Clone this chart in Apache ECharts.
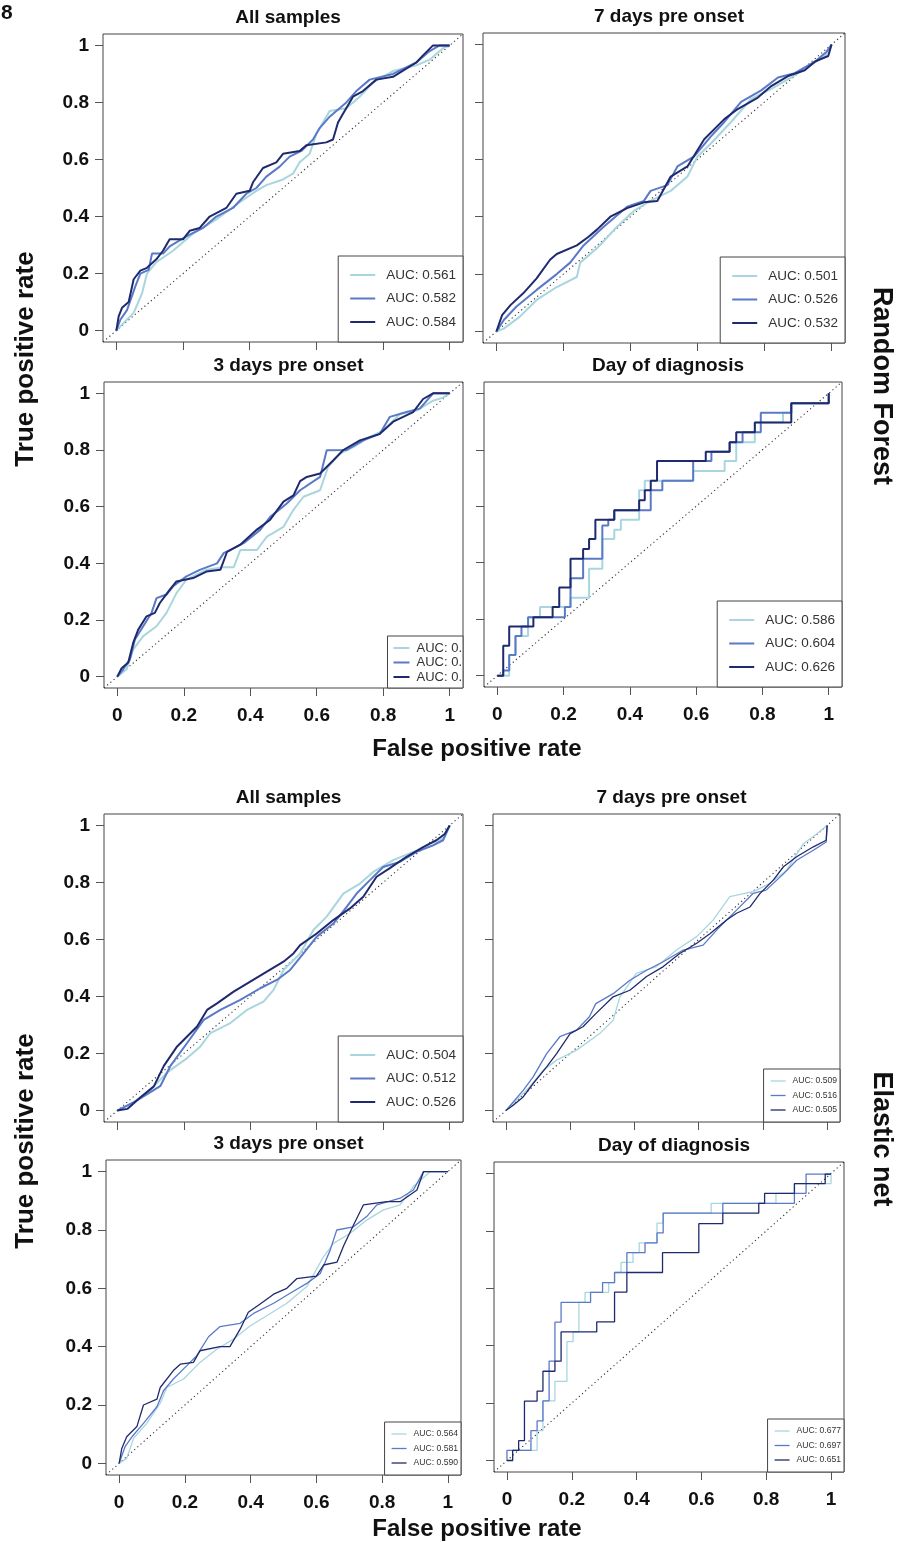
<!DOCTYPE html>
<html>
<head>
<meta charset="utf-8">
<title>ROC curves</title>
<script src="https://cdn.jsdelivr.net/npm/echarts@6/dist/echarts.min.js"></script>
<style>
  html, body { margin: 0; padding: 0; background: #fff; }
  #chart { width: 897px; height: 1542px; }
</style>
</head>
<body>
<div id="chart"></div>
<script>
// ---- data: [false positive rate, true positive rate] ----

// Random Forest, all samples
const rfAllLight = [[0,0],[0.022,0.027],[0.052,0.062],[0.077,0.13],[0.092,0.20],[0.12,0.24],[0.17,0.28],[0.23,0.34],[0.30,0.39],[0.37,0.45],[0.42,0.49],[0.45,0.51],[0.50,0.53],[0.53,0.55],[0.55,0.59],[0.58,0.62],[0.60,0.69],[0.64,0.77],[0.69,0.78],[0.73,0.82],[0.77,0.87],[0.83,0.91],[0.90,0.93],[0.94,0.95],[0.98,0.99],[1,1]]
const rfAllMid = [[0,0],[0.012,0.038],[0.032,0.072],[0.057,0.155],[0.072,0.20],[0.097,0.213],[0.107,0.27],[0.14,0.27],[0.16,0.295],[0.21,0.33],[0.26,0.36],[0.30,0.40],[0.35,0.43],[0.39,0.48],[0.42,0.50],[0.45,0.54],[0.49,0.575],[0.52,0.61],[0.555,0.63],[0.59,0.67],[0.61,0.71],[0.64,0.75],[0.69,0.80],[0.72,0.84],[0.76,0.88],[0.83,0.90],[0.90,0.94],[0.94,0.98],[0.97,1],[1,1]]
const rfAllDark = [[0,0],[0.007,0.05],[0.017,0.08],[0.037,0.10],[0.052,0.18],[0.072,0.21],[0.092,0.22],[0.12,0.25],[0.14,0.28],[0.16,0.32],[0.20,0.32],[0.22,0.35],[0.25,0.36],[0.28,0.40],[0.33,0.43],[0.36,0.48],[0.40,0.49],[0.41,0.52],[0.44,0.57],[0.48,0.59],[0.50,0.62],[0.55,0.63],[0.57,0.65],[0.63,0.66],[0.65,0.67],[0.665,0.73],[0.68,0.76],[0.71,0.82],[0.74,0.84],[0.78,0.88],[0.83,0.89],[0.90,0.94],[0.92,0.965],[0.95,1],[1,1]]
const rfAllAuc = ['AUC: 0.561', 'AUC: 0.582', 'AUC: 0.584']

// Random Forest, 7 days pre onset
const rf7Light = [[0,0],[0.022,0.01],[0.07,0.052],[0.12,0.11],[0.18,0.155],[0.24,0.19],[0.25,0.24],[0.30,0.29],[0.36,0.365],[0.41,0.42],[0.46,0.455],[0.52,0.49],[0.57,0.54],[0.60,0.61],[0.64,0.655],[0.70,0.73],[0.76,0.81],[0.82,0.845],[0.88,0.885],[0.94,0.93],[0.98,0.96],[1,1]]
const rf7Mid = [[0,0],[0.022,0.04],[0.06,0.087],[0.12,0.145],[0.18,0.20],[0.22,0.24],[0.26,0.30],[0.32,0.365],[0.39,0.435],[0.44,0.455],[0.46,0.49],[0.51,0.51],[0.54,0.575],[0.59,0.61],[0.64,0.68],[0.68,0.73],[0.73,0.80],[0.79,0.84],[0.84,0.885],[0.89,0.90],[0.95,0.94],[0.985,0.975],[1,1]]
const rf7Dark = [[0,0],[0.017,0.057],[0.042,0.092],[0.08,0.133],[0.12,0.185],[0.16,0.25],[0.18,0.27],[0.24,0.30],[0.275,0.33],[0.30,0.355],[0.34,0.40],[0.39,0.43],[0.44,0.45],[0.48,0.455],[0.52,0.54],[0.57,0.575],[0.62,0.67],[0.68,0.74],[0.72,0.775],[0.78,0.815],[0.82,0.855],[0.87,0.89],[0.92,0.91],[0.95,0.94],[0.99,0.96],[1,1]]
const rf7Auc = ['AUC: 0.501', 'AUC: 0.526', 'AUC: 0.532']

// Random Forest, 3 days pre onset
const rf3Light = [[0,0],[0.028,0.026],[0.048,0.096],[0.078,0.143],[0.118,0.178],[0.148,0.225],[0.178,0.295],[0.208,0.342],[0.268,0.377],[0.32,0.386],[0.35,0.386],[0.37,0.447],[0.42,0.447],[0.45,0.494],[0.50,0.529],[0.53,0.589],[0.56,0.635],[0.61,0.658],[0.634,0.74],[0.67,0.787],[0.71,0.81],[0.75,0.84],[0.80,0.869],[0.85,0.927],[0.90,0.939],[0.95,0.974],[0.98,0.985],[1,1]]
const rf3Mid = [[0,0],[0.018,0.026],[0.038,0.061],[0.053,0.131],[0.078,0.178],[0.103,0.225],[0.118,0.277],[0.148,0.29],[0.168,0.319],[0.208,0.354],[0.248,0.377],[0.30,0.40],[0.32,0.436],[0.38,0.471],[0.43,0.518],[0.46,0.564],[0.51,0.611],[0.55,0.658],[0.61,0.705],[0.63,0.799],[0.69,0.80],[0.74,0.834],[0.79,0.857],[0.82,0.917],[0.87,0.934],[0.91,0.946],[0.95,1],[1,1]]
const rf3Dark = [[0,0],[0.013,0.03],[0.033,0.05],[0.048,0.12],[0.063,0.166],[0.088,0.213],[0.113,0.225],[0.128,0.26],[0.158,0.307],[0.178,0.336],[0.228,0.348],[0.268,0.371],[0.31,0.377],[0.33,0.44],[0.37,0.466],[0.42,0.519],[0.46,0.554],[0.50,0.618],[0.53,0.64],[0.55,0.69],[0.57,0.705],[0.61,0.717],[0.65,0.764],[0.68,0.80],[0.73,0.834],[0.79,0.857],[0.83,0.90],[0.89,0.934],[0.92,0.98],[0.95,1],[1,1]]
const rf3Auc = ['AUC: 0.', 'AUC: 0.', 'AUC: 0.']

// Random Forest, day of diagnosis (step corners)
const rfDxLight = [[0,0],[0.036,0.073],[0.055,0.141],[0.093,0.207],[0.129,0.243],[0.221,0.276],[0.277,0.379],[0.317,0.484],[0.353,0.517],[0.373,0.552],[0.428,0.657],[0.445,0.69],[0.591,0.725],[0.686,0.76],[0.721,0.827],[0.777,0.897],[0.862,0.931],[0.887,0.965],[1,1]]
const rfDxMid = [[0,0],[0.018,0.018],[0.036,0.073],[0.055,0.141],[0.073,0.174],[0.093,0.207],[0.204,0.243],[0.221,0.345],[0.259,0.414],[0.317,0.532],[0.335,0.552],[0.353,0.586],[0.463,0.621],[0.463,0.657],[0.498,0.69],[0.591,0.76],[0.646,0.793],[0.701,0.827],[0.74,0.862],[0.795,0.931],[0.887,0.965],[1,1]]
const rfDxDark = [[0,0],[0.018,0.106],[0.036,0.174],[0.109,0.207],[0.167,0.243],[0.187,0.312],[0.221,0.414],[0.259,0.449],[0.277,0.484],[0.296,0.552],[0.353,0.586],[0.428,0.621],[0.445,0.657],[0.463,0.69],[0.482,0.76],[0.629,0.793],[0.701,0.827],[0.721,0.862],[0.777,0.897],[0.887,0.965],[1,1]]
const rfDxAuc = ['AUC: 0.586', 'AUC: 0.604', 'AUC: 0.626']

// Elastic net, all samples
const enAllLight = [[0,0],[0.02,0.012],[0.05,0.03],[0.10,0.073],[0.15,0.134],[0.21,0.184],[0.25,0.225],[0.28,0.272],[0.34,0.307],[0.39,0.353],[0.44,0.382],[0.47,0.423],[0.50,0.493],[0.55,0.551],[0.59,0.633],[0.63,0.68],[0.68,0.761],[0.73,0.796],[0.77,0.837],[0.83,0.878],[0.89,0.907],[0.95,0.93],[0.985,0.96],[1,1]]
const enAllMid = [[0,0],[0.05,0.03],[0.09,0.058],[0.13,0.087],[0.16,0.157],[0.21,0.237],[0.26,0.318],[0.31,0.353],[0.37,0.388],[0.43,0.429],[0.48,0.458],[0.52,0.493],[0.56,0.551],[0.60,0.61],[0.65,0.656],[0.69,0.714],[0.72,0.761],[0.76,0.808],[0.80,0.854],[0.85,0.872],[0.90,0.907],[0.95,0.93],[0.98,0.948],[1,1]]
const enAllDark = [[0,0],[0.03,0.006],[0.07,0.047],[0.11,0.085],[0.14,0.157],[0.18,0.225],[0.21,0.26],[0.24,0.295],[0.27,0.353],[0.30,0.376],[0.35,0.417],[0.40,0.452],[0.45,0.487],[0.50,0.522],[0.53,0.551],[0.55,0.58],[0.60,0.621],[0.65,0.668],[0.70,0.709],[0.74,0.75],[0.78,0.82],[0.82,0.85],[0.87,0.89],[0.92,0.924],[0.96,0.948],[0.985,0.97],[1,1]]
const enAllAuc = ['AUC: 0.504', 'AUC: 0.512', 'AUC: 0.526']

// Elastic net, 7 days pre onset
const en7Light = [[0,0],[0.044,0.048],[0.074,0.083],[0.116,0.141],[0.158,0.177],[0.22,0.212],[0.292,0.27],[0.334,0.317],[0.355,0.399],[0.406,0.481],[0.469,0.505],[0.531,0.563],[0.594,0.61],[0.645,0.668],[0.697,0.75],[0.77,0.768],[0.822,0.797],[0.874,0.843],[0.926,0.936],[0.967,0.97],[1,1]]
const en7Mid = [[0,0],[0.023,0.03],[0.054,0.071],[0.085,0.118],[0.127,0.20],[0.168,0.259],[0.22,0.282],[0.26,0.329],[0.28,0.375],[0.334,0.41],[0.386,0.457],[0.438,0.492],[0.49,0.522],[0.552,0.563],[0.614,0.58],[0.656,0.633],[0.718,0.703],[0.77,0.762],[0.81,0.773],[0.864,0.83],[0.905,0.878],[0.957,0.913],[0.997,0.942],[1,1]]
const en7Dark = [[0,0],[0.023,0.019],[0.054,0.048],[0.085,0.095],[0.127,0.153],[0.158,0.20],[0.20,0.27],[0.24,0.294],[0.28,0.34],[0.334,0.399],[0.386,0.422],[0.438,0.47],[0.49,0.505],[0.54,0.55],[0.594,0.587],[0.635,0.62],[0.687,0.668],[0.718,0.692],[0.76,0.714],[0.79,0.76],[0.833,0.809],[0.864,0.855],[0.905,0.89],[0.957,0.925],[0.997,0.948],[1,1]]
const en7Auc = ['AUC: 0.509', 'AUC: 0.516', 'AUC: 0.505']

// Elastic net, 3 days pre onset
const en3Light = [[0,0],[0.023,0.017],[0.044,0.086],[0.084,0.137],[0.125,0.206],[0.145,0.26],[0.196,0.289],[0.246,0.346],[0.297,0.391],[0.348,0.426],[0.398,0.471],[0.449,0.506],[0.51,0.549],[0.571,0.606],[0.622,0.709],[0.652,0.754],[0.703,0.789],[0.753,0.834],[0.804,0.869],[0.855,0.886],[0.895,0.949],[0.946,1],[1,1]]
const en3Mid = [[0,0],[0.018,0.057],[0.039,0.091],[0.074,0.137],[0.115,0.194],[0.135,0.249],[0.165,0.289],[0.206,0.335],[0.236,0.369],[0.272,0.434],[0.307,0.469],[0.368,0.48],[0.409,0.514],[0.47,0.549],[0.52,0.583],[0.571,0.617],[0.612,0.651],[0.642,0.731],[0.662,0.80],[0.713,0.811],[0.753,0.846],[0.784,0.886],[0.855,0.909],[0.895,0.937],[0.926,1],[1,1]]
const en3Dark = [[0,0],[0.008,0.051],[0.023,0.091],[0.054,0.126],[0.074,0.20],[0.115,0.22],[0.125,0.26],[0.165,0.318],[0.186,0.34],[0.226,0.346],[0.246,0.386],[0.307,0.40],[0.337,0.40],[0.368,0.46],[0.393,0.518],[0.429,0.546],[0.47,0.58],[0.51,0.60],[0.54,0.633],[0.60,0.642],[0.622,0.68],[0.663,0.69],[0.683,0.746],[0.713,0.817],[0.743,0.886],[0.814,0.897],[0.855,0.897],[0.906,0.937],[0.926,1],[1,1]]
const en3Auc = ['AUC: 0.564', 'AUC: 0.581', 'AUC: 0.590']

// Elastic net, day of diagnosis (step corners)
const enDxLight = [[0,0],[0.0175,0.035],[0.093,0.104],[0.111,0.208],[0.148,0.276],[0.185,0.414],[0.204,0.448],[0.222,0.551],[0.241,0.586],[0.314,0.62],[0.332,0.655],[0.352,0.69],[0.389,0.724],[0.408,0.758],[0.463,0.827],[0.482,0.862],[0.63,0.896],[0.83,0.931],[0.887,0.965],[1,1]]
const enDxMid = [[0,0],[0,0.035],[0.074,0.104],[0.093,0.138],[0.111,0.208],[0.13,0.346],[0.148,0.482],[0.167,0.551],[0.258,0.586],[0.295,0.62],[0.332,0.655],[0.37,0.724],[0.426,0.758],[0.463,0.793],[0.482,0.862],[0.666,0.896],[0.887,0.931],[0.923,0.998],[1,1]]
const enDxDark = [[0,0],[0.0175,0.035],[0.036,0.069],[0.054,0.207],[0.093,0.242],[0.111,0.311],[0.148,0.346],[0.167,0.448],[0.277,0.483],[0.332,0.587],[0.37,0.655],[0.48,0.724],[0.592,0.825],[0.666,0.862],[0.777,0.896],[0.795,0.931],[0.887,0.965],[0.982,0.998],[1,1]]
const enDxAuc = ['AUC: 0.677', 'AUC: 0.697', 'AUC: 0.651']

const diagonal = [[-0.04, -0.04], [1.04, 1.04]]
const tickValues = [0, 0.2, 0.4, 0.6, 0.8, 1]

// ---- layout / style ----
const W = 897
const H = 1542
const AX_MIN = -0.04
const AX_MAX = 1.04
const FONT = '"Liberation Sans", Arial, Helvetica, sans-serif'
const curveColors = ['#a8d6de', '#5a79c7', '#1f2a6e']

const legendStyles = {
  big: { itemWidth: 25, fontSize: 13.5, lineHeight: 16, itemGap: 7.5, padding: [11, 7, 12, 12], textGap: 6 },
  clip: { itemWidth: 16, fontSize: 13, lineHeight: 13, itemGap: 1.5, padding: [5.5, 1, 4.5, 6], textGap: 2 },
  small: { itemWidth: 15, fontSize: 8.6, lineHeight: 10, itemGap: 4.5, padding: [7, 3, 7, 7], textGap: 2 },
}

// box = [left, top, right, bottom] of the plot frame
const panels = [
  { title: 'All samples', box: [103, 34, 463, 342], curves: [rfAllLight, rfAllMid, rfAllDark], auc: rfAllAuc, step: false, lw: 2, legend: 'big', xLab: false, yLab: true },
  { title: '7 days pre onset', box: [483, 33, 845, 343], curves: [rf7Light, rf7Mid, rf7Dark], auc: rf7Auc, step: false, lw: 2, legend: 'big', xLab: false, yLab: false },
  { title: '3 days pre onset', box: [104, 382, 463, 688], curves: [rf3Light, rf3Mid, rf3Dark], auc: rf3Auc, step: false, lw: 2, legend: 'clip', xLab: true, yLab: true },
  { title: 'Day of diagnosis', box: [484, 382, 842, 687], curves: [rfDxLight, rfDxMid, rfDxDark], auc: rfDxAuc, step: true, lw: 2, legend: 'big', xLab: true, yLab: false },
  { title: 'All samples', box: [104, 814, 463, 1122], curves: [enAllLight, enAllMid, enAllDark], auc: enAllAuc, step: false, lw: 2, legend: 'big', xLab: false, yLab: true },
  { title: '7 days pre onset', box: [493, 814, 840, 1122], curves: [en7Light, en7Mid, en7Dark], auc: en7Auc, step: false, lw: 1.3, legend: 'small', xLab: false, yLab: false },
  { title: '3 days pre onset', box: [106, 1160, 461, 1475], curves: [en3Light, en3Mid, en3Dark], auc: en3Auc, step: false, lw: 1.3, legend: 'small', xLab: true, yLab: true },
  { title: 'Day of diagnosis', box: [494, 1162, 844, 1472], curves: [enDxLight, enDxMid, enDxDark], auc: enDxAuc, step: true, lw: 1.3, legend: 'small', xLab: true, yLab: false },
]

const tickFmt = (v) => String(+(+v).toFixed(1))
const labelFont = { fontSize: 19, fontWeight: 'bold', color: '#111', fontFamily: FONT }

const chart = echarts.init(document.getElementById('chart'), null, { renderer: 'canvas' })

const nameToLabel = {}
const grids = []
const xAxes = []
const yAxes = []
const series = []
const legends = []
const texts = []

panels.forEach((p, i) => {
  const [l, t, r, b] = p.box
  grids.push({
    left: l, top: t, width: r - l, height: b - t,
    show: true, borderColor: '#444', borderWidth: 1, backgroundColor: 'transparent',
    containLabel: false, outerBoundsMode: 'none',
  })
  const axisCommon = {
    type: 'value', gridIndex: i, min: AX_MIN, max: AX_MAX,
    axisLine: { show: false, onZero: false },
    splitLine: { show: false },
    axisTick: { show: true, customValues: tickValues, length: 8, lineStyle: { color: '#555', width: 1 } },
  }
  xAxes.push({ ...axisCommon, axisLabel: { show: p.xLab, customValues: tickValues, formatter: tickFmt, margin: 18, ...labelFont } })
  yAxes.push({ ...axisCommon, axisLabel: { show: p.yLab, customValues: tickValues, formatter: tickFmt, margin: 14, ...labelFont } })

  series.push({
    type: 'line', xAxisIndex: i, yAxisIndex: i, data: diagonal, symbol: 'none', silent: true, z: 2,
    lineStyle: { color: '#333', width: 1.1, type: [1.2, 3] },
  })
  const names = []
  p.curves.forEach((c, k) => {
    const name = 'p' + i + '_' + k
    nameToLabel[name] = p.auc[k]
    names.push(name)
    series.push({
      type: 'line', name, xAxisIndex: i, yAxisIndex: i, data: c,
      step: p.step ? 'end' : false, symbol: 'none', silent: true, z: 3 + k,
      lineStyle: { color: curveColors[k], width: p.lw },
      itemStyle: { color: curveColors[k] },
    })
  })

  const ls = legendStyles[p.legend]
  legends.push({
    data: names, orient: 'vertical', selectedMode: false,
    right: W - r, bottom: H - b,
    icon: 'rect', itemWidth: ls.itemWidth, itemHeight: p.lw, itemGap: ls.itemGap, padding: ls.padding,
    borderColor: '#444', borderWidth: 1, borderRadius: 0, backgroundColor: '#fff',
    formatter: (n) => nameToLabel[n],
    textStyle: { fontSize: ls.fontSize, lineHeight: ls.lineHeight, color: '#333', fontFamily: FONT, padding: [0, 0, 0, ls.textGap] },
  })

  texts.push({
    type: 'text', x: (l + r) / 2 + 5, y: t - 16, silent: true,
    style: { text: p.title, fill: '#111', font: 'bold 19px ' + FONT, align: 'center', verticalAlign: 'middle' },
  })
})

// figure-level labels
const bigText = (text, x, y, size, rotation) => ({
  type: 'text', x, y, rotation, silent: true,
  style: { text, fill: '#111', font: 'bold ' + size + 'px ' + FONT, align: 'center', verticalAlign: 'middle' },
})
texts.push(
  { type: 'text', x: 1, y: 13, silent: true, style: { text: '8', fill: '#111', font: 'bold 21px ' + FONT, align: 'left', verticalAlign: 'middle' } },
  bigText('True positive rate', 26, 359, 26, Math.PI / 2),
  bigText('True positive rate', 26, 1141, 26, Math.PI / 2),
  bigText('False positive rate', 477, 749, 24, 0),
  bigText('False positive rate', 477, 1529, 24, 0),
  bigText('Random Forest', 881, 386, 27, -Math.PI / 2),
  bigText('Elastic net', 881, 1139, 27, -Math.PI / 2),
)

chart.setOption({
  animation: false,
  backgroundColor: '#fff',
  grid: grids,
  xAxis: xAxes,
  yAxis: yAxes,
  legend: legends,
  series,
  graphic: { elements: texts },
})

window.addEventListener('resize', () => chart.resize())
</script>
</body>
</html>
